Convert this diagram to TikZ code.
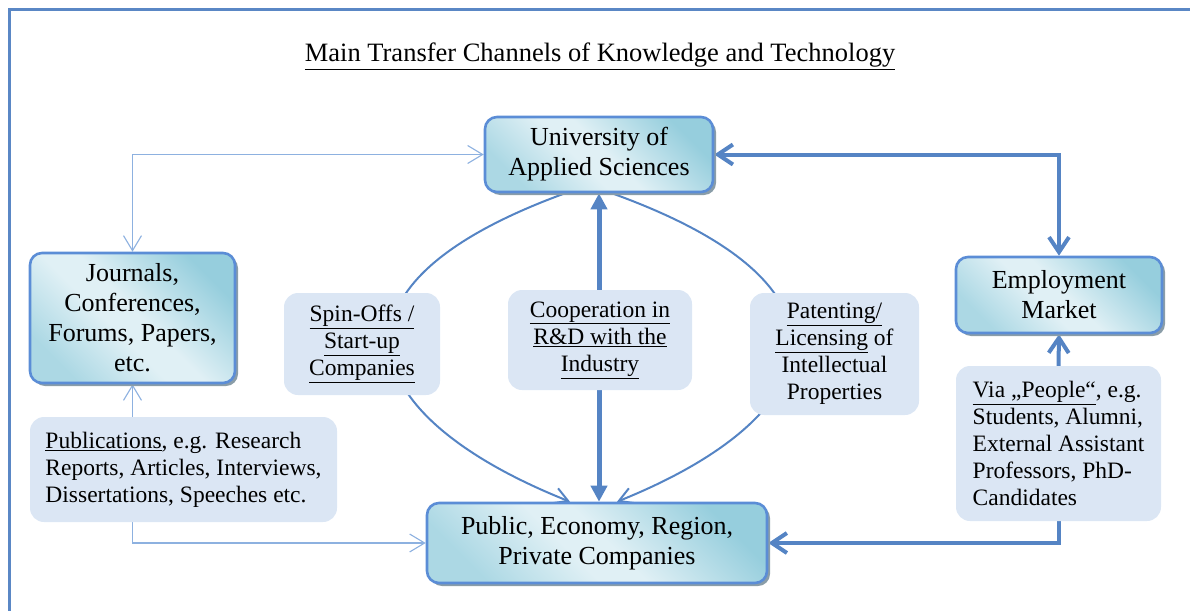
\documentclass[tikz,border=0pt]{standalone}
\usepackage{fontspec}
\setmainfont{Liberation Serif}
\usetikzlibrary{arrows.meta,shadows,backgrounds,calc}

\definecolor{frameblue}{HTML}{5A87C5}
\definecolor{boxline}{HTML}{5B8DD6}
\definecolor{boxlight}{HTML}{E0F0F5}
\definecolor{boxdark}{HTML}{96CEDD}
\definecolor{labelfill}{HTML}{DBE6F4}
\definecolor{thinline}{HTML}{8DB1E0}
\definecolor{thickline}{HTML}{5584C4}
\definecolor{shadowc}{HTML}{8A9DA8}

% diagonal fill of the main boxes: medium at lower left, light just left of
% the centre, dark at upper right
\pgfdeclarehorizontalshading{boxshade}{100bp}{%
  color(0bp)=(boxdark!70!boxlight);
  color(25bp)=(boxdark!70!boxlight);
  color(44bp)=(boxlight);
  color(52bp)=(boxlight);
  color(75bp)=(boxdark);
  color(100bp)=(boxdark)}

\newcommand\bigtxt{\fontsize{26}{30}\selectfont}
\newcommand\smalltxt{\fontsize{23.5}{27}\selectfont}

\tikzset{
  mainbox/.style={draw=boxline, line width=2.6pt, rounded corners=12pt,
    inner sep=0pt, align=center, font=\bigtxt,
    shading=boxshade, shading angle=45,
    drop shadow={shadow xshift=3pt, shadow yshift=-3pt, fill=shadowc, opacity=1}},
  tag/.style={fill=labelfill, rounded corners=14pt, inner sep=0pt,
    align=center, font=\smalltxt},
  thinarrow/.style={draw=thinline, line width=1.1pt,
    arrows={-Straight Barb[length=15pt,width=18pt]}},
  thickarrow/.style={draw=thickline, line width=4pt, line cap=round,
    arrows={-Straight Barb[length=15pt,width=20pt]}},
  curvearrow/.style={draw=thickline, line width=2pt,
    arrows={-Straight Barb[length=14pt,width=16pt]}},
  midarrow/.style={draw=thickline, line width=5pt,
    arrows={-Triangle[length=16pt,width=16pt]}},
}

\begin{document}
\begin{tikzpicture}[x=1pt, y=-1pt]
\useasboundingbox (0,0) rectangle (1190,610);

% outer frame, running off the page on the right and bottom
\draw[frameblue, line width=2.5pt] (9.5,640) -- (9.5,9.5) -- (1220,9.5);

% title
\node[anchor=base, inner sep=0pt] (title) at (600,62)
  {\fontsize{26.5}{30}\selectfont\underline{Main Transfer Channels of Knowledge and Technology}};

% main boxes
\node[mainbox, minimum width=228pt, minimum height=75pt] (U) at (599,154.5)
  {University of\\Applied Sciences};
\node[mainbox, minimum width=205pt, minimum height=130pt] (J) at (132.5,318)
  {Journals,\\Conferences,\\Forums, Papers,\\etc.};
\node[mainbox, minimum width=206pt, minimum height=76pt] (E) at (1059,295)
  {Employment\\Market};
\node[mainbox, minimum width=340pt, minimum height=80pt] (P) at (597,543)
  {Public, Economy, Region,\\Private Companies};

% channel labels
\node[tag, align=left, minimum width=307pt, minimum height=105pt] (Pub) at (183.5,469.5)
  {\underline{Publications}, e.g. Research\\Reports, Articles, Interviews,\\Dissertations, Speeches etc.};
\node[tag, minimum width=156pt, minimum height=102pt] (Spin) at (362,344)
  {\underline{Spin-Offs /}\\\underline{Start-up}\\\underline{Companies}};
\node[tag, minimum width=184pt, minimum height=100pt] (Coop) at (600,340)
  {\underline{Cooperation in}\\\underline{R\&D with the}\\\underline{Industry}};
\node[tag, minimum width=169pt, minimum height=122pt] (Pat) at (834.5,354)
  {\underline{Patenting/}\\\underline{Licensing} of\\Intellectual\\Properties};
\node[tag, align=left, minimum width=205pt, minimum height=155pt] (Via) at (1058.5,443.5)
  {\underline{Via „People“}, e.g.\\Students, Alumni,\\External Assistant\\Professors, PhD-\\Candidates};

\begin{scope}[on background layer]
  % publications channel
  \draw[thinarrow, arrows={Straight Barb[length=15pt,width=18pt]-Straight Barb[length=15pt,width=18pt]}]
    (U.west) -| (J.north);
  \draw[thinarrow] (J.south |- Pub.north) -- (J.south);
  \draw[thinarrow] (J.south |- Pub.south) |- (P.west);
  % people channel
  \draw[thickarrow, arrows={Straight Barb[length=15pt,width=20pt]-Straight Barb[length=15pt,width=20pt]}]
    (U.east) -| (E.north);
  \draw[thickarrow] (Via.north) -- (E.south);
  \draw[thickarrow] (E.south |- Via.south) |- (P.east);
  % spin-offs and patenting channels
  \draw[curvearrow] ([xshift=-34pt]U.south) .. controls (300,290) and (365,420) .. ([xshift=-27pt]P.north);
  \draw[curvearrow] ([xshift=13pt]U.south) .. controls (880,290) and (820,420) .. ([xshift=20pt]P.north);
  % cooperation channel
  \draw[midarrow] (Coop.north -| U.south) -- (U.south);
  \draw[midarrow] (Coop.south -| U.south) -- (U.south |- P.north);
\end{scope}
\end{tikzpicture}
\end{document}
